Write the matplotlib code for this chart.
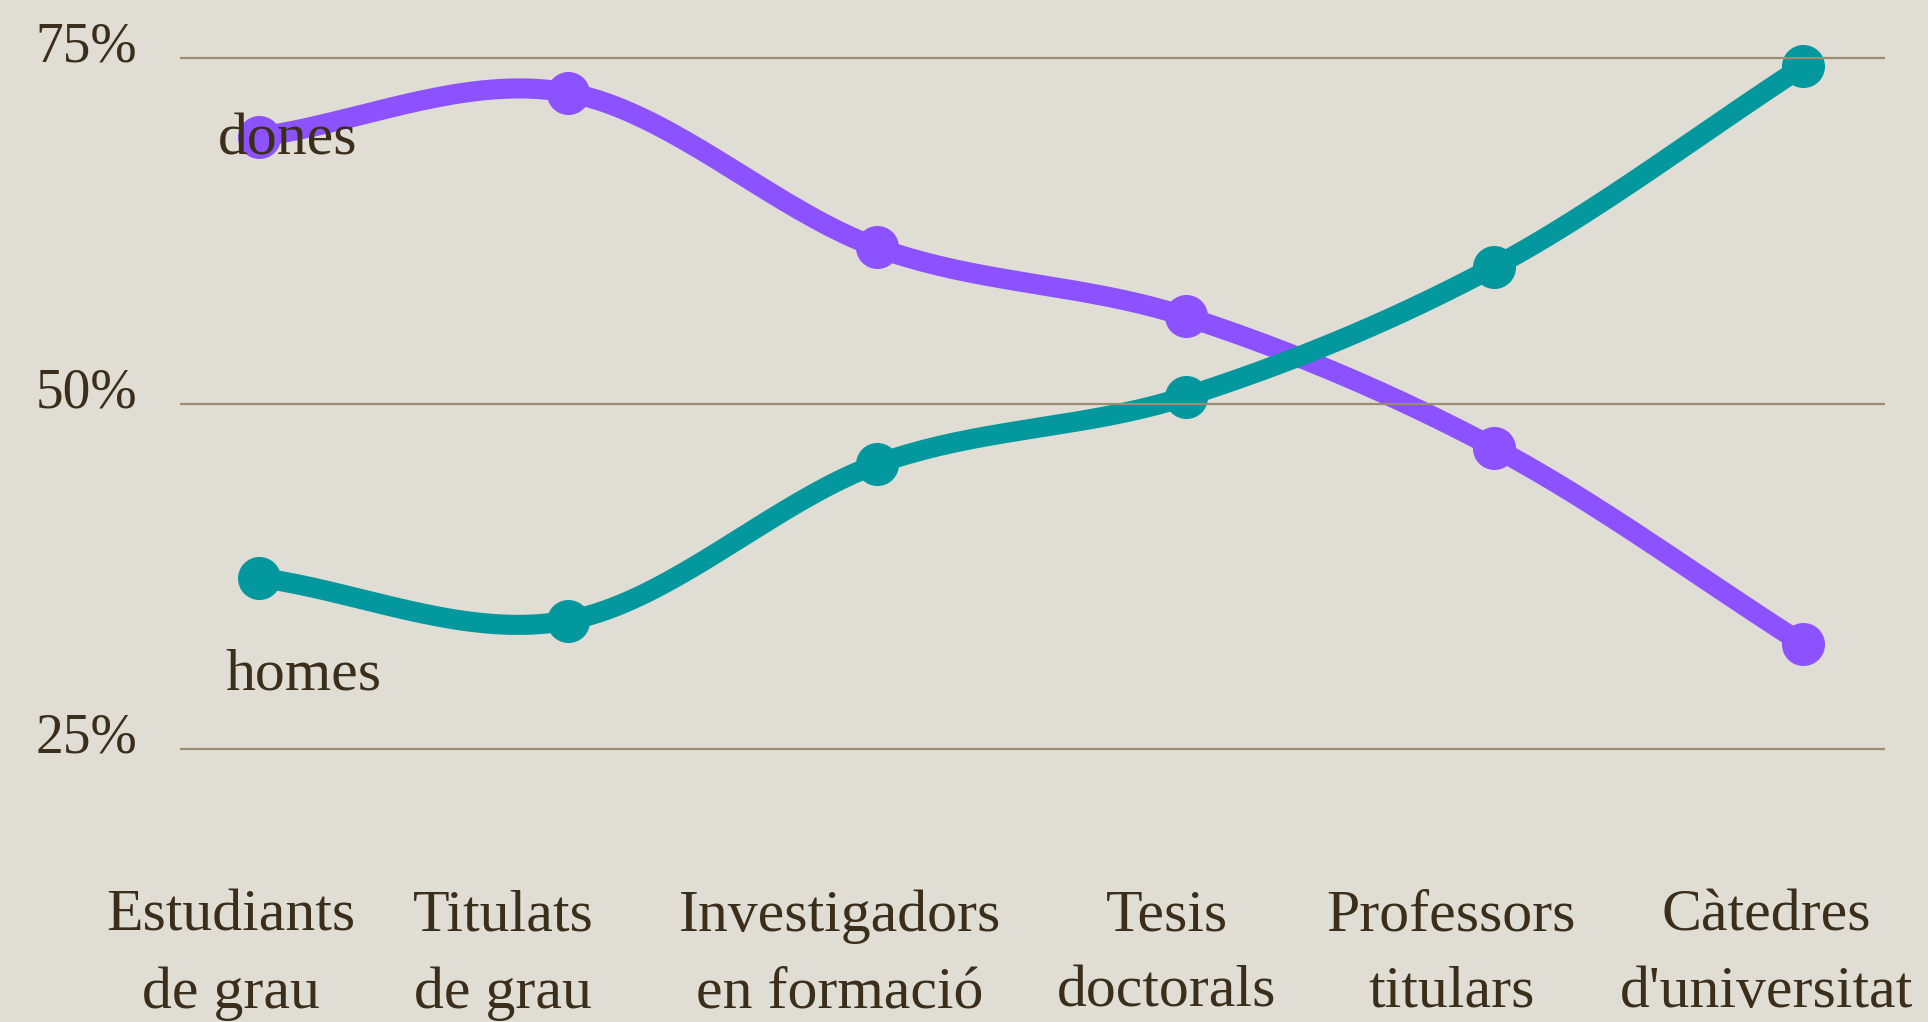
import numpy as np
import matplotlib
matplotlib.use('Agg')
from matplotlib import pyplot as plt

categories = ['Estudiants\nde grau', 'Titulats\nde grau', 'Investigadors\nen formació',
              'Tesis\ndoctorals', 'Professors\ntitulars', "Càtedres\nd'universitat"]
dones = [69.3, 72.5, 61.3, 56.3, 46.8, 32.6]
homes = [37.4, 34.3, 45.6, 50.5, 59.9, 74.4]
grid_vals = [25, 50, 75]
grid_labels = ['25%', '50%', '75%']

bg = '#e0ddd5'
purple = '#8c52ff'
teal = '#03989e'
ink = '#3b2e1a'
gridc = '#9c8c72'

plt.rcParams['font.family'] = ['Liberation Serif', 'DejaVu Serif']


def smooth(ys, n=40):
    # catmull-rom through the points, ends reflected, just for drawing
    p = np.array(ys, dtype=float)
    p = np.concatenate([[2 * p[0] - p[1]], p, [2 * p[-1] - p[-2]]])
    xs, out = [], []
    for i in range(1, len(p) - 2):
        t = np.linspace(0, 1, n, endpoint=False)
        p0, p1, p2, p3 = p[i - 1], p[i], p[i + 1], p[i + 2]
        y = 0.5 * ((2 * p1) + (-p0 + p2) * t + (2 * p0 - 5 * p1 + 4 * p2 - p3) * t ** 2
                   + (-p0 + 3 * p1 - 3 * p2 + p3) * t ** 3)
        xs.extend(i - 1 + t)
        out.extend(y)
    xs.append(len(ys) - 1)
    out.append(ys[-1])
    return np.array(xs), np.array(out)


fig = plt.figure(figsize=(19.28, 10.22), dpi=100, facecolor=bg)
ax = fig.add_axes([180 / 1928, 1 - 860 / 1022, 1705 / 1928, 860 / 1022])
ax.set_facecolor(bg)
x = np.arange(len(categories))

for ys, c, z in [(dones, purple, 2), (homes, teal, 3)]:
    sx, sy = smooth(ys)
    ax.plot(sx, sy, color=c, lw=14.5, solid_capstyle='round', zorder=z)
    ax.plot(x, ys, 'o', color=c, ms=31, mew=0, zorder=z)

for g in grid_vals:
    ax.axhline(g, color=gridc, lw=1.6, zorder=4)

ax.set_xlim(-0.256, 5.265)
ax.set_ylim(16.97, 79.2)
ax.axis('off')

ytr = ax.get_yaxis_transform()
for g, lab in zip(grid_vals, grid_labels):
    ax.text(-0.025, g + 0.75, lab, transform=ytr, ha='right', va='center',
            fontsize=40, color=ink)

shift = [-0.09, -0.21, -0.12, -0.06, -0.14, -0.12]
xtr = ax.get_xaxis_transform()
for i, lab in enumerate(categories):
    ax.text(i + shift[i], -0.034, lab, transform=xtr, ha='center', va='top',
            multialignment='center', fontsize=43, color=ink, linespacing=1.55)

ax.text(-0.133, 68.05, 'dones', ha='left', va='baseline', fontsize=43, color=ink, zorder=6)
ax.text(-0.11, 29.3, 'homes', ha='left', va='baseline', fontsize=43, color=ink, zorder=6)

fig.savefig('out.png', dpi=100, facecolor=bg)
